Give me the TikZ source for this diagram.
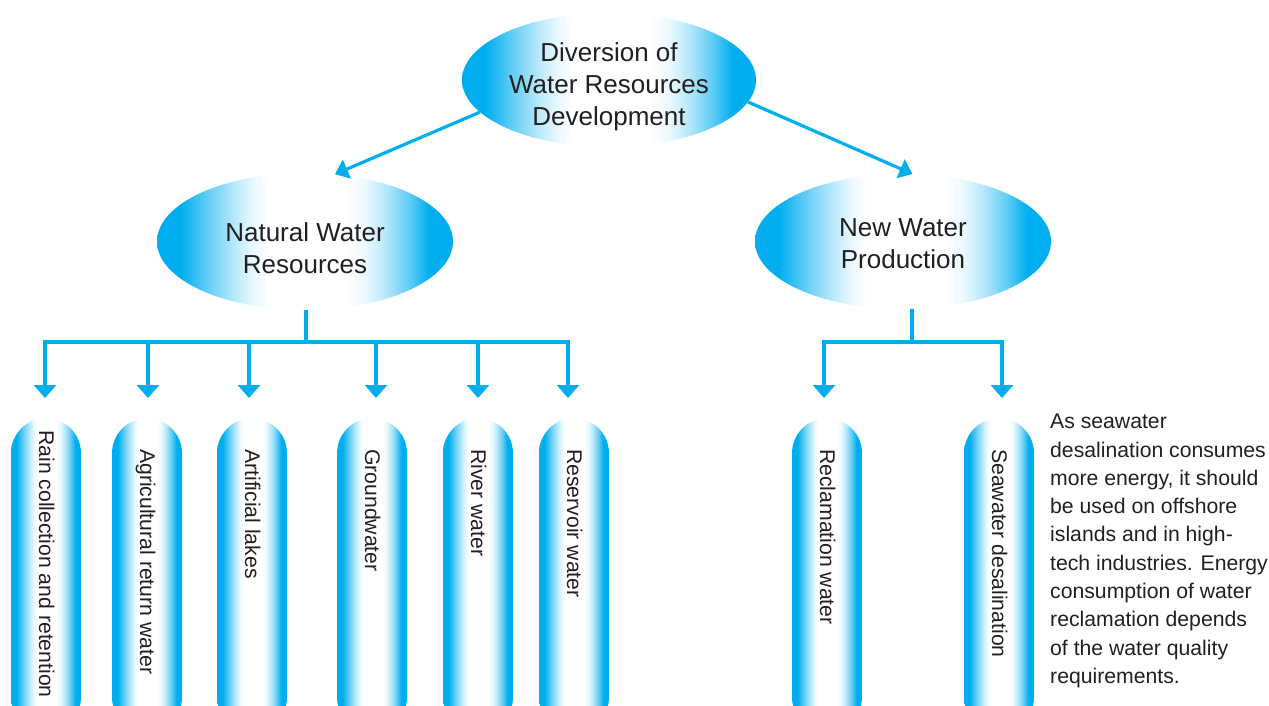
\documentclass[tikz,border=0pt]{standalone}
\usepackage{fontspec}
\setmainfont{Liberation Sans}
\usetikzlibrary{arrows.meta,shapes.geometric}
\definecolor{wcyan}{HTML}{00AEEF}
\definecolor{wtext}{HTML}{231F20}
\colorlet{wcA}{wcyan!62!white}
\colorlet{wcB}{wcyan!28!white}
\colorlet{wcC}{wcyan!7!white}
\pgfdeclarehorizontalshading{aqua}{100bp}{color(0bp)=(wcyan); color(29bp)=(wcyan); color(33.5bp)=(wcA); color(38bp)=(wcB); color(41.5bp)=(wcC); color(44bp)=(white); color(57bp)=(white); color(60bp)=(wcC); color(63.5bp)=(wcB); color(67.5bp)=(wcA); color(71bp)=(wcyan); color(100bp)=(wcyan)}
\tikzset{
  bubble/.style={ellipse, shade, shading=aqua, draw=none, inner sep=0pt},
  bubbletext/.style={align=center, inner sep=0pt, text=wtext, font={\fontsize{26}{32}\selectfont}},
  pill/.style={rectangle, anchor=north, rounded corners=35pt, shade, shading=aqua, draw=none,
    minimum width=70pt, minimum height=314pt, inner sep=0pt},
  pilltext/.style={rotate=-90, anchor=base west, inner sep=0pt, text=wtext, font={\fontsize{21.2}{25}\selectfont}},
  note/.style={anchor=north west, align=left, inner sep=0pt, text=wtext, font={\fontsize{21.2}{28.3}\selectfont}},
  link/.style={draw=wcyan, line width=3.2pt},
  downarrow/.style={link, -{Triangle[length=13pt,width=22pt]}},
  slantarrow/.style={link, -{Triangle[length=13pt,width=20pt]}}
}
\begin{document}
\begin{tikzpicture}[x=1pt,y=-1pt]
\useasboundingbox (0,0) rectangle (1269,706);
\clip (0,0) rectangle (1269,706);

% ellipses
\node[bubble, minimum width=294pt, minimum height=134pt] (top) at (609,80) {};
\node[bubbletext] (topt) at ([yshift=-7pt]top.center) {Diversion of\\Water Resources\\Development};
\node[bubble, minimum width=296pt, minimum height=137pt] (nat) at (305,241.5) {};
\node[bubbletext] (natt) at ([yshift=-7pt]nat.center) {Natural Water\\Resources};
\node[bubble, minimum width=296pt, minimum height=135pt] (new) at (903,241.5) {};
\node[bubbletext] (newt) at ([yshift=-2pt]new.center) {New Water\\Production};

\draw[slantarrow] (top.194) -- (nat.66);
\draw[slantarrow] (top.-9) -- (new.82);

% pills
\node[pill] (p1) at (46,418) {};
\node[pill] (p2) at (147,418) {};
\node[pill] (p3) at (252,418) {};
\node[pill] (p4) at (372,418) {};
\node[pill] (p5) at (478,418) {};
\node[pill] (p6) at (574,418) {};
\node[pill] (p7) at (827,418) {};
\node[pill] (p8) at (999,418) {};

\node[pilltext] (p1t) at (39,430) {Rain collection and retention};
\node[pilltext] (p2t) at (140,449) {Agricultural return water};
\node[pilltext] (p3t) at (245,449) {Artificial lakes};
\node[pilltext] (p4t) at (365,449) {Groundwater};
\node[pilltext] (p5t) at (471,449) {River water};
\node[pilltext] (p6t) at (567,449) {Reservoir water};
\node[pilltext] (p7t) at (820,449) {Reclamation water};
\node[pilltext] (p8t) at (992,449) {Seawater desalination};

% natural branch
\coordinate (nb) at (306,342);
\coordinate (a1) at (45,342);
\coordinate (a2) at (148,342);
\coordinate (a3) at (249,342);
\coordinate (a4) at (376,342);
\coordinate (a5) at (478,342);
\coordinate (a6) at (568,342);
\coordinate (t1) at (45,398);
\coordinate (t2) at (148,398);
\coordinate (t3) at (249,398);
\coordinate (t4) at (376,398);
\coordinate (t5) at (478,398);
\coordinate (t6) at (568,398);
\draw[link] (nb |- nat.south) -- (nb);
\draw[link, line cap=rect] (a1) -- (a6);
\foreach \i in {1,...,6} {\draw[downarrow] (a\i) -- (t\i);}

% new water branch
\coordinate (wb) at (912,342);
\coordinate (b1) at (824,342);
\coordinate (b2) at (1002,342);
\coordinate (u1) at (824,398);
\coordinate (u2) at (1002,398);
\draw[link] (wb |- new.south) -- (wb);
\draw[link, line cap=rect] (b1) -- (b2);
\draw[downarrow] (b1) -- (u1);
\draw[downarrow] (b2) -- (u2);

% note
\node[note] (txt) at (1050,414) {As seawater\\desalination consumes\\more energy, it should\\be used on offshore\\islands and in high-\\tech industries. Energy\\consumption of water\\reclamation depends\\of the water quality\\requirements.};
\end{tikzpicture}
\end{document}
